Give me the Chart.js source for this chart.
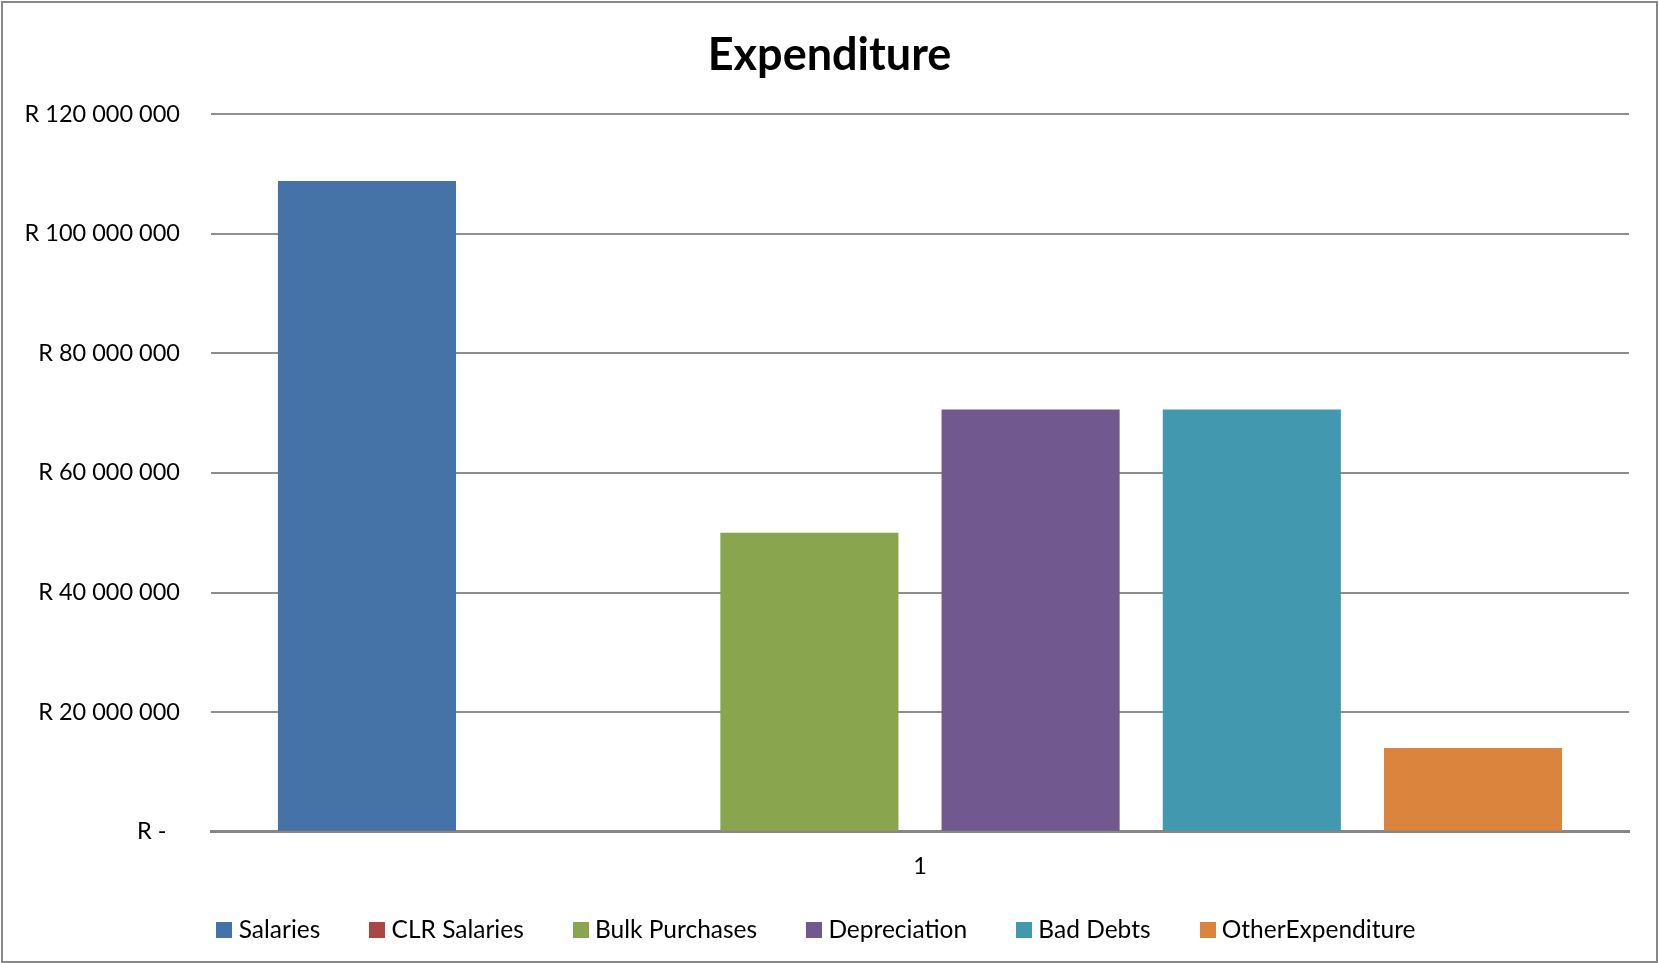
<!DOCTYPE html>
<html>
<head>
<meta charset="utf-8">
<script src="https://cdn.jsdelivr.net/npm/chart.js@4/dist/chart.umd.min.js"></script>
<style>
  html, body { margin: 0; padding: 0; background: #ffffff; }
  #wrap { width: 1659px; height: 963px; position: relative; }
  canvas { display: block; }
</style>
</head>
<body>
<div id="wrap"><canvas id="c" width="1659" height="963"></canvas></div>
<script>
// ---- data ----
const categories = ['1'];
const seriesNames = ['Salaries', 'CLR Salaries', 'Bulk Purchases', 'Depreciation', 'Bad Debts', 'OtherExpenditure'];
const salaries = [108800000];
const clrSalaries = [0];
const bulkPurchases = [50000000];
const depreciation = [70600000];
const badDebts = [70600000];
const otherExpenditure = [14000000];
const yTickValues = [0, 20000000, 40000000, 60000000, 80000000, 100000000, 120000000];
const yTickLabels = ['R -\u2007', 'R 20 000 000', 'R 40 000 000', 'R 60 000 000', 'R 80 000 000', 'R 100 000 000', 'R 120 000 000'];
const chartTitle = 'Expenditure';

const seriesValues = [salaries, clrSalaries, bulkPurchases, depreciation, badDebts, otherExpenditure];
const seriesColors = ['#4572A7', '#AA4643', '#89A54E', '#71588F', '#4198AF', '#DB843D'];

const FONT = 'Lato, "Open Sans", sans-serif';

// square legend swatch (16px) drawn as a point-style image
function swatch(color) {
  const c = document.createElement('canvas');
  c.width = 16; c.height = 16;
  const g = c.getContext('2d');
  g.fillStyle = color;
  g.fillRect(0, 0, 16, 16);
  return c;
}

const layoutPlugin = {
  id: 'layoutTweaks',
  afterLayout(chart) {
    if (chart.legend) {
      chart.legend.top -= 20.25;
      chart.legend.bottom -= 20.25;
      chart.legend.left -= 1;
      chart.legend.right -= 1;
    }
    if (chart.titleBlock) {
      chart.titleBlock.left += 9.5;
      chart.titleBlock.right += 9.5;
    }
  },
  afterDraw(chart) {
    const ctx = chart.ctx;
    ctx.save();
    ctx.strokeStyle = '#878787';
    ctx.lineWidth = 2;
    ctx.strokeRect(2, 2, chart.width - 4, chart.height - 3);
    ctx.restore();
  }
};

new Chart(document.getElementById('c'), {
  type: 'bar',
  data: {
    labels: categories,
    datasets: seriesNames.map((n, i) => ({
      label: n,
      data: seriesValues[i],
      backgroundColor: seriesColors[i],
      borderWidth: 0,
      pointStyle: swatch(seriesColors[i]),
      categoryPercentage: 0.936,
      barPercentage: 0.805
    }))
  },
  options: {
    responsive: false,
    animation: false,
    devicePixelRatio: 1,
    layout: { padding: { left: 11, right: 30, top: 0, bottom: 0 } },
    plugins: {
      title: {
        display: true,
        text: chartTitle,
        color: '#000',
        font: { family: FONT, size: 45, weight: 'bold', lineHeight: 1.2 },
        padding: { top: 28, bottom: 32 }
      },
      legend: {
        position: 'bottom',
        maxHeight: 80,
        labels: {
          color: '#000',
          font: { family: FONT, size: 24.5 },
          usePointStyle: true,
          pointStyleWidth: 4,
          boxHeight: 16,
          padding: 55
        }
      },
      tooltip: { enabled: false }
    },
    scales: {
      x: {
        grid: { display: false, drawTicks: false },
        border: { display: true, color: '#878787', width: 3 },
        ticks: { color: '#000', font: { family: FONT, size: 23.5 }, padding: 21 },
        afterFit(scale) { scale.height = 51.25; }
      },
      y: {
        min: 0,
        max: 120000000,
        afterBuildTicks(scale) { scale.ticks = yTickValues.map(v => ({ value: v })); },
        grid: { color: '#8e8e8e', lineWidth: 2, drawTicks: false },
        border: { display: false },
        ticks: {
          color: '#000',
          font: { family: FONT, size: 23.5 },
          padding: 31,
          callback(value) {
            const i = yTickValues.indexOf(value);
            return i >= 0 ? yTickLabels[i] : '';
          }
        },
        afterFit(scale) { scale.width = 200; }
      }
    }
  },
  plugins: [layoutPlugin]
});
</script>
</body>
</html>
